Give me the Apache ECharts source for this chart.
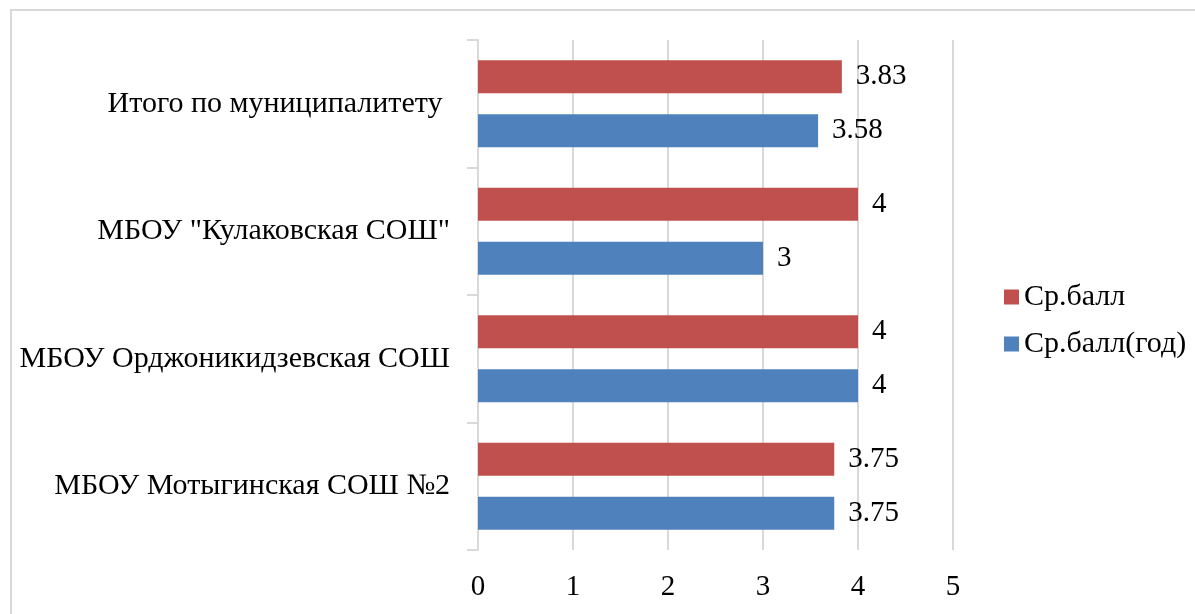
<!DOCTYPE html>
<html>
<head>
<meta charset="utf-8">
<script src="https://cdn.jsdelivr.net/npm/echarts@6/dist/echarts.min.js"></script>
<style>
  html, body { margin: 0; padding: 0; background: #fff; }
  #frame {
    position: absolute; left: 10px; top: 9px; width: 1300px; height: 700px;
    border-left: 2px solid #d9d9d9; border-top: 2px solid #d9d9d9;
  }
  #chart { position: absolute; left: 0; top: 0; width: 1195px; height: 614px; }
</style>
</head>
<body>
<div id="frame"></div>
<div id="chart"></div>
<script>
const categories = [
  "МБОУ Мотыгинская СОШ №2",
  "МБОУ Орджоникидзевская СОШ",
  "МБОУ \"Кулаковская СОШ\"",
  "Итого по муниципалитету "
];
const avgScore = [3.75, 4, 4, 3.83];
const avgScoreYear = [3.75, 4, 3, 3.58];
const xTicks = [0, 1, 2, 3, 4, 5];

const font = "'Liberation Serif', 'Times New Roman', serif";
const gridColor = "#d9d9d9";

const chart = echarts.init(document.getElementById("chart"));

const labelStyle = {
  show: true,
  position: "right",
  distance: 14,
  fontFamily: font,
  fontSize: 29,
  color: "#000",
  padding: [6, 0, 0, 0],
};

chart.setOption({
  animation: false,
  grid: { left: 478, right: 242, top: 40, bottom: 64 },
  legend: {
    orient: "vertical",
    left: 999,
    top: 277,
    itemWidth: 15,
    itemHeight: 15,
    itemGap: 17,
    icon: "rect",
    data: ["Ср.балл", "Ср.балл(год)"],
    textStyle: { fontFamily: font, fontSize: 30, color: "#000" },
  },
  xAxis: {
    type: "value",
    min: xTicks[0],
    max: xTicks[xTicks.length - 1],
    interval: 1,
    axisLine: { show: false },
    axisTick: { show: false },
    axisLabel: { fontFamily: font, fontSize: 29, color: "#000", margin: 23 },
    splitLine: { lineStyle: { color: gridColor, width: 2 } },
  },
  yAxis: {
    type: "category",
    data: categories,
    axisLine: { lineStyle: { color: gridColor, width: 2 } },
    axisTick: { show: true, length: 11, lineStyle: { color: gridColor, width: 2 } },
    axisLabel: {
      fontFamily: font, fontSize: 30, color: "#000", margin: 28,
      padding: [6, 0, 0, 0],
    },
  },
  series: [
    {
      name: "Ср.балл",
      type: "bar",
      data: avgScore,
      barWidth: 33,
      barGap: "64%",
      itemStyle: { color: "#C0504D" },
      label: labelStyle,
    },
    {
      name: "Ср.балл(год)",
      type: "bar",
      data: avgScoreYear,
      barWidth: 33,
      barGap: "64%",
      itemStyle: { color: "#4F81BD" },
      label: labelStyle,
    },
  ],
});
</script>
</body>
</html>
